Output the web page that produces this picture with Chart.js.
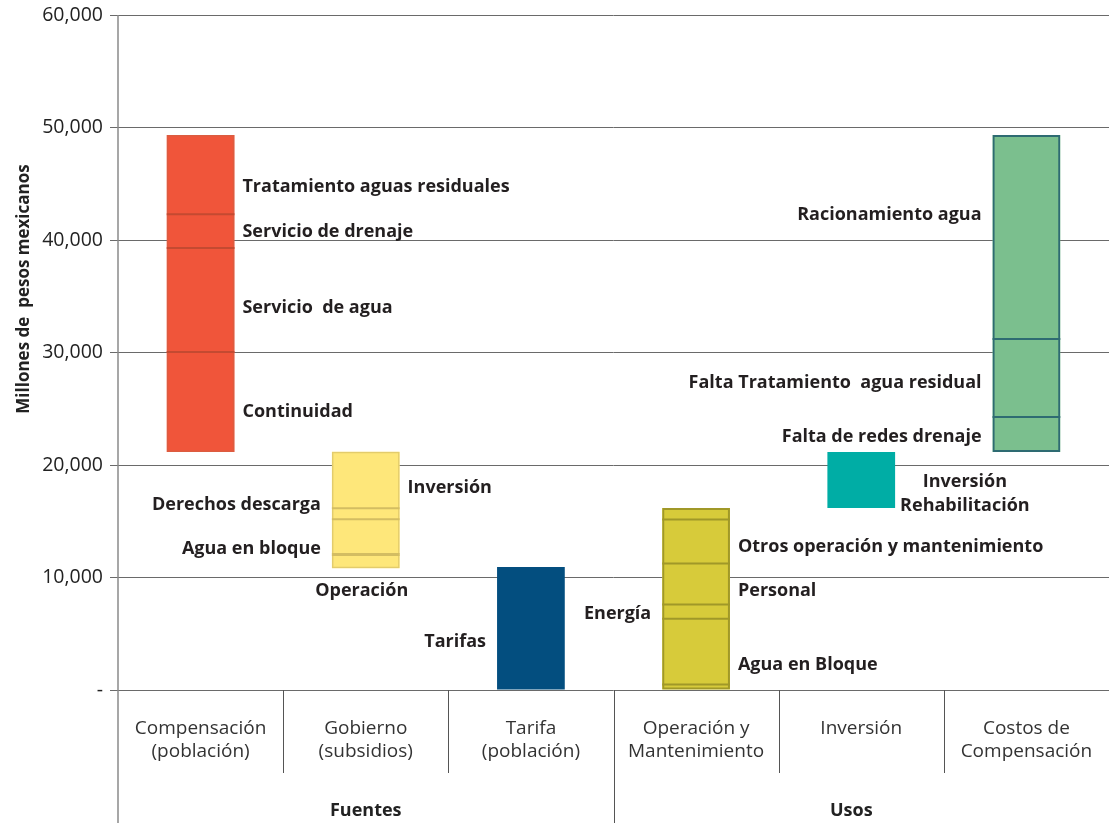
<!DOCTYPE html>
<html><head><meta charset="utf-8">
<script src="https://cdn.jsdelivr.net/npm/chart.js@4"></script>
<style>html,body{margin:0;padding:0;background:#fff}#wrap{width:1109px;height:823px}</style>
</head><body><div id="wrap"><canvas id="c" width="1109" height="823"></canvas></div>
<script>
// ---------- DATA ----------
const categories = [["Compensación","(población)"],["Gobierno","(subsidios)"],["Tarifa","(población)"],["Operación y","Mantenimiento"],["Inversión"],["Costos de","Compensación"]];
const groupNames = ["Fuentes","Usos"];
const groupSizes = [3,3];
const yTickValues = [0,10000,20000,30000,40000,50000,60000];
const yTitle = "Millones de  pesos mexicanos";

// segment boundaries (millones de pesos) for each column
const compensacionBounds = [21150, 30050, 39300, 42300, 49330];
const gobiernoBounds     = [10820, 12040, 15170, 16150, 21180];
const tarifaBounds       = [0, 10930];
const operacionBounds    = [0, 500, 6340, 7600, 11240, 15150, 16180];
const inversionBounds    = [16180, 21150];
const costosBounds       = [21150, 24270, 31200, 49330];
const allBounds = [compensacionBounds, gobiernoBounds, tarifaBounds, operacionBounds, inversionBounds, costosBounds];

// annotation labels: [text lines, value, side]
const compensacionLabels = [[["Tratamiento aguas residuales"],44890,"right"],[["Servicio de drenaje"],40890,"right"],[["Servicio  de agua"],34130,"right"],[["Continuidad"],24890,"right"]];
const gobiernoLabels = [[["Inversión"],18130,"right"],[["Derechos descarga"],16620,"left"],[["Agua en bloque"],12710,"left"],[["Operación"],8980,"below"]];
const tarifaLabels = [[["Tarifas"],4440,"left"]];
const operacionLabels = [[["Otros operación y mantenimiento"],12890,"right"],[["Personal"],8980,"right"],[["Energía"],6930,"left"],[["Agua en Bloque"],2400,"right"]];
const inversionLabels = [[["Inversión","Rehabilitación"],17600,"right"]];
const costosLabels = [[["Racionamiento agua"],42400,"left"],[["Falta Tratamiento  agua residual"],27470,"left"],[["Falta de redes drenaje"],22670,"left"]];
const allLabels = [compensacionLabels, gobiernoLabels, tarifaLabels, operacionLabels, inversionLabels, costosLabels];

// ---------- STYLE ----------
const FONT = "'Open Sans', 'Noto Sans', sans-serif";
const barStyles = [
  {fill:'#f0553a', outline:'#dc5c40', divider:'#c44a31', bw:1.5},
  {fill:'#fee77a', outline:'#e3cc6c', divider:'#d3bd62', bw:1.5},
  {fill:'#034e7f', outline:null, divider:null, bw:0},
  {fill:'#d7cb3a', outline:'#a09828', divider:'#a09828', bw:2},
  {fill:'#00ada5', outline:null, divider:null, bw:0},
  {fill:'#7bbf8e', outline:'#2e6b72', divider:'#2e6b72', bw:2}
];
const BAR_FRAC = 0.41;

const datasets = [];
allBounds.forEach((b, ci) => {
  for (let s = 0; s < b.length - 1; s++) {
    const d = new Array(categories.length).fill(null);
    d[ci] = [b[s], b[s+1]];
    datasets.push({
      data: d, order: 2,
      backgroundColor: barStyles[ci].fill,
      borderWidth: 0,
      barPercentage: BAR_FRAC, categoryPercentage: 1
    });
  }
  if (barStyles[ci].bw > 0) {
    const d = new Array(categories.length).fill(null);
    d[ci] = [b[0], b[b.length - 1]];
    datasets.push({
      data: d, order: 1,
      backgroundColor: 'rgba(0,0,0,0)',
      borderColor: barStyles[ci].outline,
      borderWidth: barStyles[ci].bw,
      borderSkipped: false,
      barPercentage: BAR_FRAC, categoryPercentage: 1
    });
  }
});

const dividers = {
  id: 'dividers',
  afterDatasetsDraw(chart) {
    const ctx = chart.ctx, xs = chart.scales.x, ys = chart.scales.y, ca = chart.chartArea;
    const cw = (ca.right - ca.left) / categories.length;
    ctx.save();
    allBounds.forEach((b, ci) => {
      const st = barStyles[ci];
      if (!st.divider) return;
      const cx = xs.getPixelForValue(ci), half = cw * BAR_FRAC / 2;
      ctx.strokeStyle = st.divider;
      for (let s = 1; s < b.length - 1; s++) {
        const y = ys.getPixelForValue(b[s]);
        ctx.lineWidth = (ci === 1 && s === 1) ? 3 : 2;
        ctx.beginPath(); ctx.moveTo(cx - half, y); ctx.lineTo(cx + half, y); ctx.stroke();
      }
    });
    ctx.restore();
  }
};

const decor = {
  id: 'decor',
  afterDraw(chart) {
    const ctx = chart.ctx, ca = chart.chartArea, xs = chart.scales.x, ys = chart.scales.y;
    const H = chart.height;
    const n = categories.length, cw = (ca.right - ca.left) / n;
    ctx.save();
    ctx.strokeStyle = '#8a8a8a'; ctx.lineWidth = 1.5;
    ctx.beginPath(); ctx.moveTo(ca.left, ca.top); ctx.lineTo(ca.left, H); ctx.stroke();
    const groupEdges = [0]; let acc = 0; groupSizes.forEach(g => { acc += g; groupEdges.push(acc); });
    ctx.strokeStyle = '#555'; ctx.lineWidth = 1;
    for (let i = 1; i < n; i++) {
      const x = Math.round(ca.left + i * cw) + 0.5;
      const full = groupEdges.includes(i);
      ctx.beginPath(); ctx.moveTo(x, ca.bottom); ctx.lineTo(x, full ? H : ca.bottom + 83); ctx.stroke();
    }
    ctx.fillStyle = '#222'; ctx.font = "bold 18px " + FONT; ctx.textAlign = 'center'; ctx.textBaseline = 'middle';
    groupNames.forEach((g, gi) => {
      const x0 = ca.left + groupEdges[gi] * cw, x1 = ca.left + groupEdges[gi+1] * cw;
      ctx.fillText(g, (x0 + x1) / 2 - (gi === 1 ? 10 : 0), 811);
    });
    ctx.translate(24, 289); ctx.rotate(-Math.PI / 2);
    ctx.font = "bold 17px " + FONT; ctx.fillText(yTitle, 0, 0);
    ctx.restore();

    ctx.save();
    ctx.fillStyle = '#231f20'; ctx.font = "bold 18px " + FONT; ctx.textBaseline = 'middle';
    allLabels.forEach((labs, ci) => {
      const cx = xs.getPixelForValue(ci), half = cw * BAR_FRAC / 2;
      labs.forEach(([lines, v, side]) => {
        const y = ys.getPixelForValue(v) + 2;
        const lh = 24;
        const w = Math.max(...lines.map(l => ctx.measureText(l).width));
        lines.forEach((l, li) => {
          const yy = y + (li - (lines.length - 1) / 2) * lh;
          if (side === 'right') {
            if (lines.length > 1) { ctx.textAlign = 'center'; ctx.fillText(l, cx + half + 5 + w / 2, yy); }
            else { ctx.textAlign = 'left'; ctx.fillText(l, cx + half + 8, yy); }
          } else if (side === 'left') {
            ctx.textAlign = 'right'; ctx.fillText(l, cx - half - 11, yy);
          } else {
            ctx.textAlign = 'center'; ctx.fillText(l, cx - 4, yy);
          }
        });
      });
    });
    ctx.restore();
  }
};

new Chart(document.getElementById('c'), {
  type: 'bar',
  data: { labels: categories, datasets },
  options: {
    responsive: false, animation: false, devicePixelRatio: 1,
    layout: { padding: { top: 15, left: 0, right: 0, bottom: 0 } },
    plugins: { legend: { display: false }, tooltip: { enabled: false } },
    scales: {
      x: {
        stacked: true, offset: true,
        grid: { display: false }, border: { display: false },
        ticks: { font: { family: FONT, size: 19, lineHeight: 23/19 }, color: '#333', padding: 19, maxRotation: 0, autoSkip: false },
        afterFit(s) { s.height = 133; s.paddingLeft = 0; s.paddingRight = 0; }
      },
      y: {
        min: 0, max: 60000,
        afterBuildTicks(s) { s.ticks = yTickValues.map(v => ({ value: v })); },
        ticks: { font: { family: FONT, size: 19.5 }, color: '#222', padding: 7,
          callback: v => v === 0 ? '-' : v.toLocaleString('en-US') },
        grid: { color: '#6a6a6a', lineWidth: 1, tickLength: 8 },
        border: { display: false },
        afterFit(s) { s.width = 118; s.paddingTop = 0; s.paddingBottom = 0; }
      }
    }
  },
  plugins: [dividers, decor]
});
</script></body></html>
